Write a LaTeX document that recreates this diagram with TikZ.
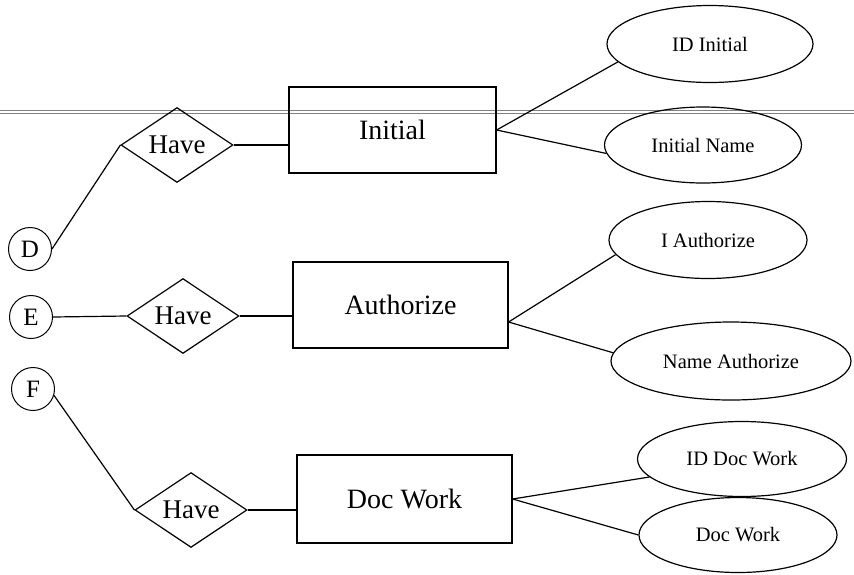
\documentclass[tikz,border=0pt]{standalone}
\usepackage{fontspec}
\setmainfont{Liberation Serif}
\usetikzlibrary{shapes.geometric}
\usetikzlibrary{positioning}
\tikzset{
    entity/.style={
           rectangle,
           draw=black, line width=1.2pt,
           minimum height=86pt,
           inner sep=0pt,
           text centered,
           font=\fontsize{28}{32}\selectfont,
           },
    relation/.style={
           diamond,
           draw=black, line width=1.2pt,
           minimum width=112pt,
           minimum height=56pt,
           inner sep=0pt,
           font=\fontsize{27}{30}\selectfont,
           },
    attribute/.style={
           ellipse,
           draw=black, line width=1.2pt,
           minimum height=77pt,
           inner sep=0pt,
           font=\fontsize{20.5}{24}\selectfont,
           },
    connector/.style={
           circle,
           draw=black, line width=1pt,
           minimum size=43pt,
           inner sep=0pt,
           font=\fontsize{25}{28}\selectfont,
           },
}

\begin{document}
\begin{tikzpicture}[x=1pt,y=-1pt,line width=1.2pt]
        \useasboundingbox (0,0) rectangle (854,574);

        % header rule of the page (double line)
        \draw[gray, line width=0.9pt, double distance=2.6pt] (0,112) -- (854,112);

        % CONNECTORS D, E, F
        \node[connector] (CON_D) at (30,249) {D};
        \node[connector] (CON_E) at (31,317) {E};
        \node[connector] (CON_F) at (33,389) {F};

        % ENTITY INITIAL
        \node[entity,
            minimum width=207pt
            ] (ENT_INITIAL) at (392.5,130) {Initial};

        % ENTITY AUTHORIZE
        \node[entity,
            minimum width=215pt
            ] (ENT_AUTH) at (400.5,305) {Authorize};

        % ENTITY DOC WORK
        \node[entity,
            minimum width=215pt,
            minimum height=88pt
            ] (ENT_DOCWORK) at (404.5,499) {Doc Work};

        % RELATIONS
        \node[relation] (REL_HAVE1) at (177,145) {Have};
        \node[relation] (REL_HAVE2) at (183,316) {Have};
        \node[relation] (REL_HAVE3) at (191,510) {Have};

        % ATTRIBUTES INITIAL
        \node[attribute, minimum width=206pt] (ATT_IDINIT) at (710,44) {ID Initial};
        \node[attribute, minimum width=197pt, minimum height=76pt] (ATT_INITNAME) at (703,145) {Initial Name};

        % ATTRIBUTES AUTHORIZE
        \node[attribute, minimum width=198pt] (ATT_IAUTH) at (708,240) {I Authorize};
        \node[attribute, minimum width=240pt, minimum height=78pt] (ATT_NAMEAUTH) at (731,361) {Name Authorize};

        % ATTRIBUTES DOC WORK
        \node[attribute, minimum width=209pt, minimum height=75pt] (ATT_IDDOC) at (742,459) {ID Doc Work};
        \node[attribute, minimum width=198pt, minimum height=75pt] (ATT_DOC) at (738,535) {Doc Work};

        % junction on the right side of Authorize
        \coordinate (AUTH_J) at ([yshift=-17pt]ENT_AUTH.east);

        % draw the links
        \path
        (CON_D.east)        edge (REL_HAVE1.west)
        (CON_E.east)        edge (REL_HAVE2.west)
        (CON_F.-17)         edge (REL_HAVE3.west)
        (REL_HAVE1.east)    edge (REL_HAVE1.east -| ENT_INITIAL.west)
        (REL_HAVE2.east)    edge (REL_HAVE2.east -| ENT_AUTH.west)
        (REL_HAVE3.east)    edge (REL_HAVE3.east -| ENT_DOCWORK.west)
        (ENT_INITIAL.east)  edge (ATT_IDINIT.191)
        (ENT_INITIAL.east)  edge (ATT_INITNAME.185)
        (AUTH_J)            edge (ATT_IAUTH.189)
        (AUTH_J)            edge (ATT_NAMEAUTH.176)
        (ENT_DOCWORK.east)  edge (ATT_IDDOC.191)
        (ENT_DOCWORK.east)  edge (ATT_DOC.west)
        ;

\end{tikzpicture}
\end{document}
